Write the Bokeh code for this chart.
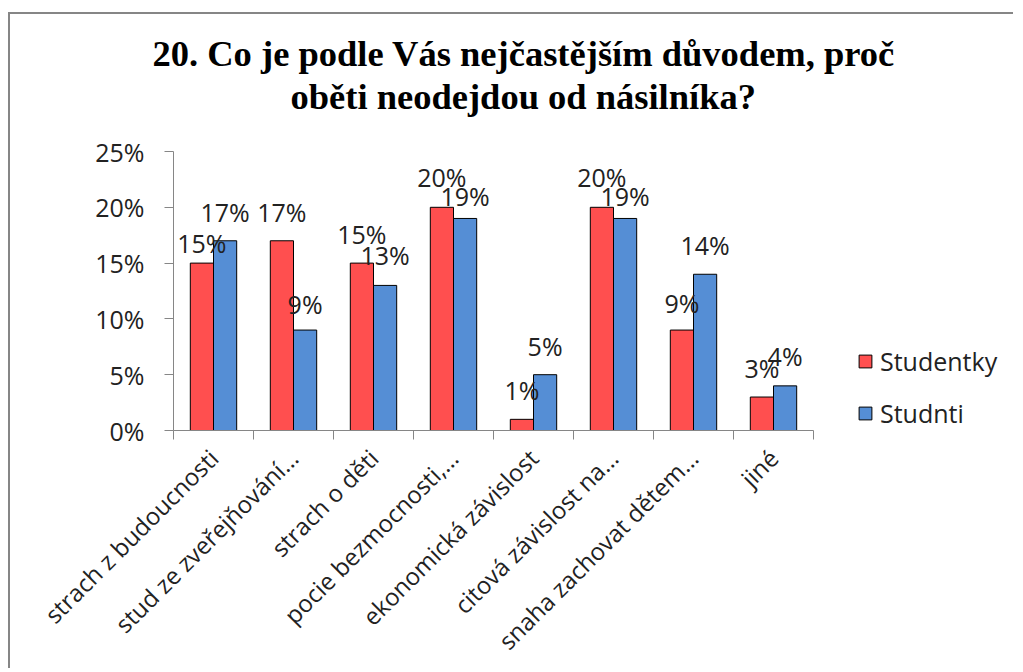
import math
from bokeh.plotting import figure
from bokeh.models import (ColumnDataSource, FixedTicker, Legend, LegendItem,
                          Range1d, PrintfTickFormatter, Title)
from bokeh.transform import dodge
from bokeh.core.properties import value
from bokeh.embed import file_html
from bokeh.resources import INLINE

# ---- data ----
categories = ["strach z budoucnosti", "stud ze zveřejňování…", "strach o děti",
              "pocie bezmocnosti,…", "ekonomická závislost", "citová závislost na…",
              "snaha zachovat dětem…", "jiné"]
studentky = [15, 17, 15, 20, 1, 20, 9, 3]
studnti = [17, 9, 13, 19, 5, 19, 14, 4]
y_ticks = [0, 5, 10, 15, 20, 25]
series_names = ["Studentky", "Studnti"]
title_line1 = "20. Co je podle Vás nejčastějším důvodem, proč"
title_line2 = "oběti neodejdou od násilníka?"

# ---- styles ----
RED = "#FF4F4F"
BLUE = "#558ED5"
AXIS = "#868686"
TXT = "#222222"
FONT = "Open Sans"
FS = "25px"
# label gap above bar (px); a few labels sit lower, as in the original
gap_r = [20, 29, 29, 30, 29, 30, 27, 29]
gap_b = [29, 26, 30, 22, 29, 22, 29, 30]

n = len(categories)
centers = [i + 0.5 for i in range(n)]
bounds = list(range(n + 1))
x_end = n + 2.5   # extra room on the right of the frame for the legend

src = ColumnDataSource(dict(
    center=centers,
    studentky=studentky,
    studnti=studnti,
    lab_r=[f"{v}%" for v in studentky],
    lab_b=[f"{v}%" for v in studnti],
    off_r=[-g for g in gap_r],
    off_b=[-g for g in gap_b],
))

W, H = 1005, 656
p = figure(width=W, height=H, output_backend="svg", toolbar_location=None,
           x_range=Range1d(0, x_end), y_range=Range1d(0, 25),
           min_border_left=163, min_border_right=2,
           min_border_top=137, min_border_bottom=H - 417)
p.styles = {"border-left": f"2px solid {AXIS}", "border-top": f"2px solid {AXIS}",
            "margin-left": "8px", "margin-top": "12px"}
p.outline_line_color = None
p.xgrid.visible = False
p.ygrid.visible = False
p.background_fill_color = "white"
p.border_fill_color = "white"

# title: two lines, each placed where the original has it
TF = dict(text_font="Liberation Serif", text_font_size="36.5px",
          text_font_style="bold", text_color="black")
spacer = Title(text=" ", text_font_size="1px", standoff=32)
t2 = Title(text=title_line2, align="left", offset=117, standoff=0, **TF)
t1 = Title(text=title_line1, align="left", offset=-21, standoff=0, **TF)
p.add_layout(spacer, "above")
p.add_layout(t2, "above")
p.add_layout(t1, "above")

bw = 0.29
r1 = p.vbar(x=dodge("center", -bw / 2), top="studentky", width=bw, source=src,
            fill_color=RED, line_color="black", line_width=1)
r2 = p.vbar(x=dodge("center", bw / 2), top="studnti", width=bw, source=src,
            fill_color=BLUE, line_color="black", line_width=1)

for col, lab, off, dx in (("studentky", "lab_r", "off_r", -bw / 2),
                          ("studnti", "lab_b", "off_b", bw / 2)):
    p.text(x=dodge("center", dx), y=col, text=lab, source=src, y_offset=off,
           text_align="center", text_baseline="alphabetic",
           text_font=value(FONT), text_font_size=FS, text_color=TXT)

# x axis
xa = p.xaxis[0]
xa.bounds = (0, n)
xa.ticker = FixedTicker(ticks=centers, minor_ticks=bounds)
xa.major_label_overrides = {c: name for c, name in zip(centers, categories)}
xa.major_label_orientation = math.pi / 4
xa.major_tick_out = 0
xa.major_tick_in = 0
xa.minor_tick_out = 9
xa.minor_tick_in = 0
xa.minor_tick_line_color = AXIS
xa.axis_line_color = AXIS
xa.major_label_text_font = FONT
xa.major_label_text_font_size = "24px"
xa.major_label_text_color = TXT
xa.major_label_standoff = 14

# y axis
ya = p.yaxis[0]
ya.ticker = FixedTicker(ticks=y_ticks, minor_ticks=[])
ya.formatter = PrintfTickFormatter(format="%d%%")
ya.major_tick_out = 9
ya.major_tick_in = 0
ya.major_tick_line_color = AXIS
ya.axis_line_color = AXIS
ya.major_label_text_font = FONT
ya.major_label_text_font_size = FS
ya.major_label_text_color = TXT
ya.major_label_standoff = 20

legend = Legend(items=[LegendItem(label=series_names[0], renderers=[r1]),
                       LegendItem(label=series_names[1], renderers=[r2])],
                location=(684, 0), glyph_width=16, glyph_height=16,
                label_standoff=7, spacing=18, padding=0, margin=0,
                border_line_color=None, background_fill_alpha=0,
                label_text_font=FONT, label_text_font_size=FS,
                label_text_color=TXT)
p.add_layout(legend)

open("out.html", "w").write(file_html(p, INLINE))
